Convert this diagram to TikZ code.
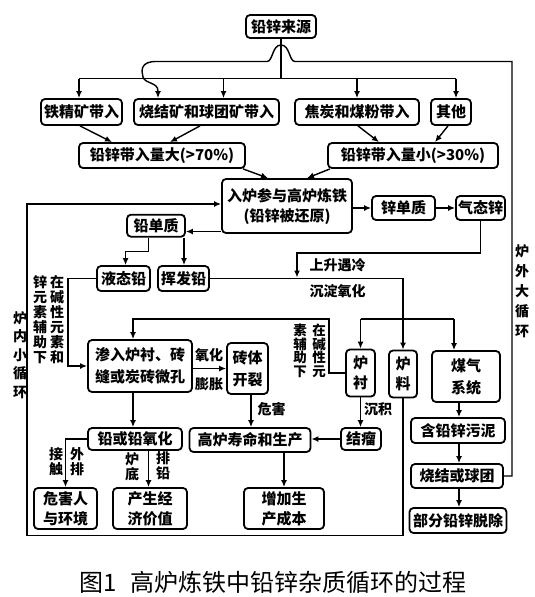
\documentclass[tikz,border=0pt]{standalone}
\usepackage{fontspec}
\setmainfont{Noto Sans CJK SC}
\usetikzlibrary{arrows.meta,calc}
\begin{document}
\begin{tikzpicture}[x=1pt,y=-1pt,
  box/.style={draw, line width=1.8pt, rounded corners=4pt, inner sep=1pt, align=center,
    font=\bfseries\fontsize{15}{20}\selectfont},
  arr/.style={line width=1.4pt, -{Latex[length=7pt,width=6pt]}},
  ln/.style={line width=1.4pt},
  lbl/.style={inner sep=0pt, align=center, font=\bfseries\fontsize{14}{15}\selectfont},
  vlbl/.style={inner sep=0pt, align=center, font=\bfseries\fontsize{14}{15}\selectfont},
  vlbs/.style={inner sep=0pt, align=center, font=\bfseries\fontsize{13.5}{13.5}\selectfont},
  vbig/.style={inner sep=0pt, align=center, font=\bfseries\fontsize{14}{18.5}\selectfont},
  vbig2/.style={inner sep=0pt, align=center, font=\bfseries\fontsize{14}{20}\selectfont}
]
\useasboundingbox (0,0) rectangle (535,597);

% boxes
\node[box, minimum width=70pt, minimum height=23pt] (src) at (281,26.5) {铅锌来源};
\node[box, minimum width=81pt, minimum height=26pt] (tjk) at (81.5,112) {铁精矿带入};
\node[box, minimum width=145pt, minimum height=26pt] (sj) at (206.5,112) {烧结矿和球团矿带入};
\node[box, minimum width=124pt, minimum height=26pt] (jt) at (357,112) {焦炭和煤粉带入};
\node[box, minimum width=40pt, minimum height=26pt] (qt) at (451,112) {其他};
\node[box, minimum width=166pt, minimum height=25pt] (big) at (162,155.5) {铅锌带入量大(>70\%)};
\node[box, minimum width=170pt, minimum height=25pt] (small) at (413,155.5) {铅锌带入量小(>30\%)};
\node[box, minimum width=130pt, minimum height=54pt] (furn) at (287,206) {入炉参与高炉炼铁\\(铅锌被还原)};
\node[box, minimum width=63pt, minimum height=24pt] (zn) at (403.5,208) {锌单质};
\node[box, minimum width=49pt, minimum height=24pt] (gzn) at (480.5,208) {气态锌};
\node[box, minimum width=58pt, minimum height=22pt] (pb) at (156,225.7) {铅单质};
\node[box, minimum width=53pt, minimum height=25pt] (lpb) at (123.5,278.5) {液态铅};
\node[box, minimum width=51pt, minimum height=25pt] (vpb) at (183.5,278.5) {挥发铅};
\node[box, minimum width=104pt, minimum height=52pt, font=\bfseries\fontsize{15}{22}\selectfont] (pen) at (140,366) {渗入炉衬、砖\\缝或炭砖微孔};
\node[box, minimum width=41pt, minimum height=51pt, font=\bfseries\fontsize{15}{22}\selectfont] (crack) at (247.5,368.5) {砖体\\开裂};
\node[box, minimum width=29pt, minimum height=47pt] (lining) at (360.5,373) {炉\\衬};
\node[box, minimum width=28pt, minimum height=47pt] (burden) at (403,374) {炉\\料};
\node[box, minimum width=68pt, minimum height=51pt, font=\bfseries\fontsize{15}{22}\selectfont] (gas) at (466,376.5) {煤气\\系统};
\node[box, minimum width=94pt, minimum height=25pt] (sludge) at (458,430.5) {含铅锌污泥};
\node[box, minimum width=40pt, minimum height=22pt] (scab) at (361,439) {结瘤};
\node[box, minimum width=121pt, minimum height=24pt] (life) at (250,440) {高炉寿命和生产};
\node[box, minimum width=94pt, minimum height=22pt] (pbo) at (135,439) {铅或铅氧化};
\node[box, minimum width=63pt, minimum height=41pt] (harm) at (65.5,508.5) {危害人\\与环境};
\node[box, minimum width=74pt, minimum height=41pt] (econ) at (150,508.5) {产生经\\济价值};
\node[box, minimum width=80pt, minimum height=41pt] (cost) at (284,508.5) {增加生\\产成本};
\node[box, minimum width=92pt, minimum height=24pt] (sint2) at (457,476) {烧结或球团};
\node[box, minimum width=97pt, minimum height=25pt] (remove) at (458,520.5) {部分铅锌脱除};

% labels
\node[lbl] (lox) at (209,355) {氧化};
\node[lbl] (lpz) at (209,384) {膨胀};
\node[lbl] (lwh) at (271.5,409) {危害};
\node[lbl] (lcj) at (378,409) {沉积};
\node[lbl] (lss) at (337.5,265.5) {上升遇冷};
\node[lbl] (lcd) at (337.5,291) {沉淀氧化};
\node[vlbl] (lz1) at (40,319.5) {锌\\元\\素\\辅\\助\\下};
\node[vlbl] (lz2) at (57,319.5) {在\\碱\\性\\元\\素\\和};
\node[vlbs] (lr1) at (300,351) {素\\辅\\助\\下};
\node[vlbs] (lr2) at (319,351) {在\\碱\\性\\元};
\node[vlbl] (ljc) at (56,462) {接\\触};
\node[vlbl] (lwp) at (77,462) {外\\排};
\node[vlbl] (lld) at (132,467) {炉\\底};
\node[vlbl] (lpq) at (163,465.5) {排\\铅};
\node[vbig] (lsmall) at (20,355) {炉\\内\\小\\循\\环};
\node[vbig2] (lbig) at (522,291.5) {炉\\外\\大\\循\\环};
\node[inner sep=0pt, font=\fontsize{24}{24}\selectfont] (cap) at (273,582.5) {图1\hspace{0.6em}高炉炼铁中铅锌杂质循环的过程};

% coordinates
\coordinate (busL) at (79,78.5);
\coordinate (busR) at (456,78.5);
\coordinate (retTop) at (512,61.5);
\coordinate (y319) at (0,319);
\coordinate (pbY) at (0,231.5);

% top distribution
\draw[ln] (src.south) -- (src.south |- busL);
\draw[ln] (busL) -- (busR);
\draw[arr] (busL) -- (busL |- tjk.north);
\draw[arr] (223.5,78.5) -- (223.5,0 |- sj.north);
\draw[arr] (jt.north |- busL) -- (jt.north);
\draw[arr] (busR) -- (busR |- qt.north);

% outer big loop return
\draw[arr] (sint2.east) -| (retTop) -- (295,61.5)
  .. controls (289,61.5) and (290,45) .. (281,45)
  .. controls (272,45) and (273,61.5) .. (267,61.5)
  -- (156,61.5) .. controls (141,61.5) and (141,70) .. (143,77)
  .. controls (145,84) and (158,82) .. (158,91) -- (158,0 |- sj.north);

% into intake levels
\draw[arr] (80,0 |- tjk.south) -- (112,0 |- big.north);
\draw[arr] (200,0 |- sj.south) -- (170,0 |- big.north);
\draw[arr] (358,0 |- jt.south) -- (379,0 |- small.north);
\draw[arr] (448,0 |- qt.south) -- (435,0 |- small.north);
\draw[arr] (243,0 |- big.south) -- (268,0 |- furn.north);
\draw[arr] (330,0 |- small.south) -- (307,0 |- furn.north);

% furnace products
\draw[arr] (furn.east |- zn.west) -- (zn.west);
\draw[arr] (zn.east) -- (gzn.west);
\draw[arr] (furn.west |- pbY) -- (pb.east |- pbY);
\draw[arr] (148.5,0 |- pb.south) |- (125.6,251.5) -- (125.6,0 |- lpb.north);
\draw[arr] (184,0 |- pb.south) -- (184,0 |- vpb.north);
\draw[arr] (gzn.south) |- (297,253) -- (297,277.5);

% distribution to lining / burden / gas
\draw[arr] (vpb.east) -| (burden.north);
\draw[ln] (lining.north |- y319) -- (454,319);
\draw[arr] (lining.north |- y319) -- (lining.north);
\draw[arr] (454,319) -- (454,0 |- gas.north);
\draw[arr] (lining.west) -- ++(-16,0) |- (133,319) -- (133,0 |- pen.north);
\draw[arr] (lpb.west) -| (68,366) -- (pen.west);

% middle part
\draw[arr] (pen.east |- crack.west) -- (crack.west);
\draw[arr] (251,0 |- crack.south) -- (251,0 |- life.north);
\draw[arr] (133,0 |- pen.south) -- (133,0 |- pbo.north);
\draw[arr] (lining.south) -- (lining.south |- scab.north);
\draw[arr] (scab.west) -- (scab.west -| life.east);
\draw[arr] (pbo.west) -| (harm.north);
\draw[arr] (148.5,0 |- pbo.south) -- (148.5,0 |- econ.north);
\draw[arr] (cost.north |- life.south) -- (cost.north);

% gas system chain
\draw[arr] (459,0 |- gas.south) -- (459,0 |- sludge.north);
\draw[arr] (459,0 |- sludge.south) -- (459,0 |- sint2.north);
\draw[arr] (459,0 |- sint2.south) -- (459,0 |- remove.north);

% inner small loop
\draw[arr] (burden.south) |- (27,535.5) |- ($(furn.west)+(0,-2)$);
\end{tikzpicture}
\end{document}
